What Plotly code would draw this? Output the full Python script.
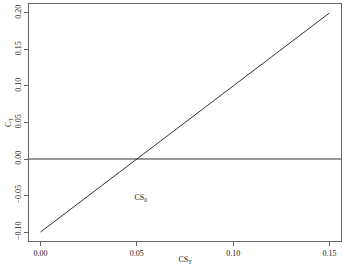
import plotly.graph_objects as go

line_x = [0.0, 0.15]
line_y = [-0.1, 0.2]
hline_y = [0.0, 0.0]
hline_x = [-0.02, 0.17]
label_x = [0.052]
label_y = [-0.054]
label_text = ["CS<sub>0</sub>"]
xticks = [0.0, 0.05, 0.10, 0.15]
xtick_text = ["0.00", "0.05", "0.10", "0.15"]
yticks = [-0.10, -0.05, 0.0, 0.05, 0.10, 0.15, 0.20]
ytick_text = ["\u22120.10", "\u22120.05", "0.00", "0.05", "0.10", "0.15", "0.20"]

font = dict(family="Liberation Serif", size=8, color="#222222")

fig = go.Figure()
fig.add_trace(go.Scatter(x=line_x, y=line_y, mode="lines",
                         line=dict(color="black", width=0.8), showlegend=False))
fig.add_trace(go.Scatter(x=hline_x, y=hline_y, mode="lines",
                         line=dict(color="black", width=0.8), showlegend=False))
fig.add_trace(go.Scatter(x=label_x, y=label_y, mode="text", text=label_text,
                         textfont=font, showlegend=False))

fig.update_layout(
    width=344, height=265,
    margin=dict(l=29, r=3, t=4, b=24),
    paper_bgcolor="white", plot_bgcolor="white",
    font=font,
)
fig.update_xaxes(range=[-0.006, 0.156], tickvals=xticks, ticktext=xtick_text,
                 tickfont=font, automargin=False,
                 showgrid=False, zeroline=False, showline=True, linecolor="#666",
                 linewidth=1, mirror=True, ticks="outside", ticklen=4, tickcolor="#666",
                 title=dict(text="CS<sub>T</sub>", font=font, standoff=0))
fig.update_yaxes(range=[-0.1123, 0.2123], tickvals=yticks, ticktext=ytick_text,
                 tickfont=font, automargin=False,
                 showgrid=False, zeroline=False, showline=True, linecolor="#666",
                 linewidth=1, mirror=True, ticks="outside", ticklen=4, tickcolor="#666",
                 tickangle=-90,
                 title=dict(text="C<sub>T</sub>", font=font, standoff=0))

fig.write_html("out.html")
